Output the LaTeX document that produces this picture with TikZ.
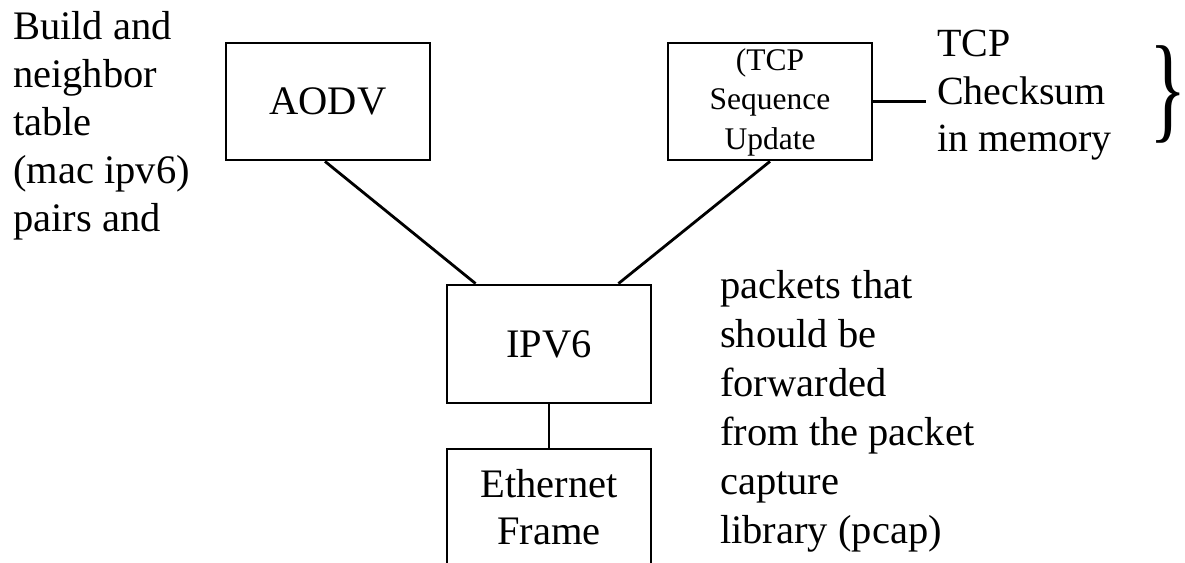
\documentclass[tikz,border=0pt]{standalone}
\usepackage{fontspec}
\setmainfont{Liberation Serif}
\usetikzlibrary{calc}
\begin{document}
\begin{tikzpicture}[x=1pt,y=-1pt,
  box/.style={draw=black,line width=2.8pt,rectangle,inner sep=0pt,align=center,
    minimum width=204pt,minimum height=117pt},
  conn/.style={draw=black,line width=2.8pt},
  bigtext/.style={font=\fontsize{40.5}{48}\selectfont,inner sep=0pt,align=left},
  smalltext/.style={font=\fontsize{31.5}{39.5}\selectfont,inner sep=0pt,align=center}]
\useasboundingbox (0,0) rectangle (1185,562);
\clip (0,0) rectangle (1185,562);
% boxes
\node[box,font=\fontsize{40.5}{48}\selectfont] (aodv) at (328,101.5) {AODV};
\node[box] (tcp) at (770,101.5) {};
\node[smalltext,anchor=north] (tcptext) at (770,48) {(TCP\\Sequence\\Update};
\node[box,font=\fontsize{40.5}{48}\selectfont,minimum width=204pt,minimum height=118pt] (ipv6) at (549,344) {IPV6};
\node[box,minimum height=160pt] (eth) at (549,529) {};
\node[bigtext,align=center,font=\fontsize{40.5}{47}\selectfont,anchor=north] (ethtext) at (549,469) {Ethernet\\Frame};
% free texts
\node[bigtext,anchor=north west] (left) at (13,11) {Build and\\neighbor\\table\\(mac ipv6)\\pairs and};
\node[bigtext,font=\fontsize{40.5}{49}\selectfont,anchor=north west] (packets) at (720,270) {packets that\\should be\\forwarded\\from the packet\\capture\\library (pcap)};
\node[bigtext,font=\fontsize{40}{47.5}\selectfont,anchor=north west] (chk) at (937,30) {TCP\\Checksum\\in memory};
\node[inner sep=0pt,font=\fontsize{118}{118}\selectfont,xscale=0.66] (brace) at (1168,94) {\}};
% connectors
\coordinate (chkend) at (926,101.5);
\draw[conn] ($(aodv.south)+(-3,0)$) -- ($(ipv6.north west)+(30,0)$);
\draw[conn] (tcp.south) -- ($(ipv6.north east)+(-34,0)$);
\draw[conn] (tcp.east) -- (chkend);
\draw[conn] (ipv6.south) -- (eth.north);
\end{tikzpicture}
\end{document}
